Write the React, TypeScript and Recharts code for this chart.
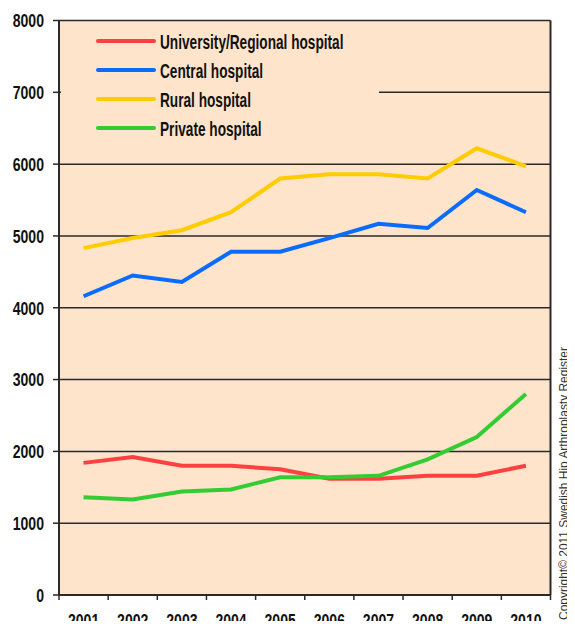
import React from "react";
import {
  LineChart,
  Line,
  XAxis,
  YAxis,
  CartesianGrid,
  Legend,
  ReferenceLine,
} from "recharts";

const categories = ["2001", "2002", "2003", "2004", "2005", "2006", "2007", "2008", "2009", "2010"];
const universityRegional = [1840, 1920, 1800, 1800, 1750, 1620, 1620, 1660, 1660, 1800];
const central = [4160, 4450, 4360, 4780, 4780, 4970, 5170, 5110, 5640, 5330];
const rural = [4830, 4970, 5080, 5330, 5800, 5860, 5860, 5800, 6220, 5970];
const privateHosp = [1360, 1330, 1440, 1470, 1640, 1640, 1660, 1890, 2200, 2800];
const yTicks = [0, 1000, 2000, 3000, 4000, 5000, 6000, 7000, 8000];
const seriesNames = [
  "University/Regional hospital",
  "Central hospital",
  "Rural hospital",
  "Private hospital",
];
const copyrightText = "Copyright\u00a9 2011 Swedish Hip Arthroplasty Register";

const data = categories.map((c, i) => ({
  year: Number(c),
  uni: universityRegional[i],
  central: central[i],
  rural: rural[i],
  priv: privateHosp[i],
}));

const xTicks: number[] = [];
categories.forEach((c, i) => {
  const y = Number(c);
  if (i === 0) xTicks.push(y - 0.5);
  xTicks.push(y);
  xTicks.push(y + 0.5);
});

const CHART_W = 559;
const CHART_H = 621;
const X_AXIS_H = 34;
const AXIS_Y = CHART_H - X_AXIS_H;

const FONT = "'Liberation Sans', Arial, sans-serif";
const PEACH = "#FEE4CA";
const DARK = "#2a2a2a";

const YTick = (props: any) => {
  const { x, y, payload } = props;
  return (
    <text
      transform={`translate(${x},${y}) scale(0.74,1)`}
      textAnchor="end"
      dy="0.36em"
      fontFamily={FONT}
      fontWeight="bold"
      fontSize={19}
      fill="#111"
    >
      {payload.value}
    </text>
  );
};

const XTick = (props: any) => {
  const { x, payload } = props;
  const v = payload.value as number;
  if (!Number.isInteger(v)) {
    return <line x1={x} x2={x} y1={AXIS_Y} y2={AXIS_Y + 5} stroke={DARK} strokeWidth={1.5} />;
  }
  return (
    <text
      transform={`translate(${x},${AXIS_Y + 32}) scale(0.74,1)`}
      textAnchor="middle"
      fontFamily={FONT}
      fontWeight="bold"
      fontSize={19}
      fill="#111"
    >
      {String(v)}
    </text>
  );
};

const renderLegend = (props: any) => {
  const payload = [...(props.payload || [])].sort(
    (a: any, b: any) => seriesNames.indexOf(a.value) - seriesNames.indexOf(b.value)
  );
  return (
    <svg width={318} height={128} style={{ display: "block", background: PEACH }}>
      {payload.map((entry: any, i: number) => {
        const cy = 19 + i * 29;
        return (
          <g key={i}>
            <line
              x1={37}
              x2={93}
              y1={cy}
              y2={cy}
              stroke={entry.color}
              strokeWidth={4}
              strokeLinecap="round"
            />
            <text
              transform={`translate(99,${cy}) scale(0.65,1)`}
              dy="0.36em"
              fontFamily={FONT}
              fontWeight="bold"
              fontSize={21}
              fill="#111"
            >
              {entry.value}
            </text>
          </g>
        );
      })}
    </svg>
  );
};

export default function App() {
  return (
    <div style={{ position: "relative", width: CHART_W, height: CHART_H, marginBottom: -8 }}>
      <LineChart
        width={CHART_W}
        height={CHART_H}
        data={data}
        margin={{ top: 12.5, right: 16.5, left: 0, bottom: 0 }}
      >
        <CartesianGrid
          vertical={false}
          stroke={DARK}
          strokeWidth={1.5}
          fill={PEACH}
          fillOpacity={1}
        />
        <XAxis
          dataKey="year"
          type="number"
          domain={[2000.5, 2010.5]}
          ticks={xTicks}
          interval={0}
          height={X_AXIS_H}
          tickSize={0}
          tickMargin={0}
          tickLine={false}
          axisLine={{ stroke: DARK, strokeWidth: 2 }}
          tick={<XTick />}
        />
        <YAxis
          type="number"
          domain={[0, 8000]}
          ticks={yTicks}
          interval={0}
          width={51}
          tickSize={6}
          tickMargin={9}
          tickLine={{ stroke: DARK, strokeWidth: 1.5 }}
          axisLine={{ stroke: DARK, strokeWidth: 2 }}
          tick={<YTick />}
        />
        <ReferenceLine x={2010.5} stroke={DARK} strokeWidth={2} />
        <Legend
          layout="vertical"
          align="center"
          verticalAlign="middle"
          itemSorter={(item: any) => seriesNames.indexOf(item.value)}
          content={renderLegend}
          wrapperStyle={{ position: "absolute", left: 52.5, top: 14, width: 318, height: 128 }}
        />
        <Line
          name={seriesNames[0]}
          dataKey="uni"
          stroke="#FF4040"
          strokeWidth={4}
          dot={false}
          isAnimationActive={false}
        />
        <Line
          name={seriesNames[1]}
          dataKey="central"
          stroke="#0A6CFF"
          strokeWidth={4}
          dot={false}
          isAnimationActive={false}
        />
        <Line
          name={seriesNames[2]}
          dataKey="rural"
          stroke="#FFCC00"
          strokeWidth={4}
          dot={false}
          isAnimationActive={false}
        />
        <Line
          name={seriesNames[3]}
          dataKey="priv"
          stroke="#33CC33"
          strokeWidth={4}
          dot={false}
          isAnimationActive={false}
        />
      </LineChart>
      <svg
        width={566}
        height={CHART_H}
        style={{ position: "absolute", left: 0, top: 0, pointerEvents: "none" }}
      >
        <text
          x={560}
          y={475.5}
          transform="rotate(-90, 560, 475.5)"
          textAnchor="middle"
          fontFamily={FONT}
          fontSize={13.5}
          fill="#333"
          textLength={273}
          lengthAdjust="spacingAndGlyphs"
        >
          {copyrightText}
        </text>
      </svg>
    </div>
  );
}
